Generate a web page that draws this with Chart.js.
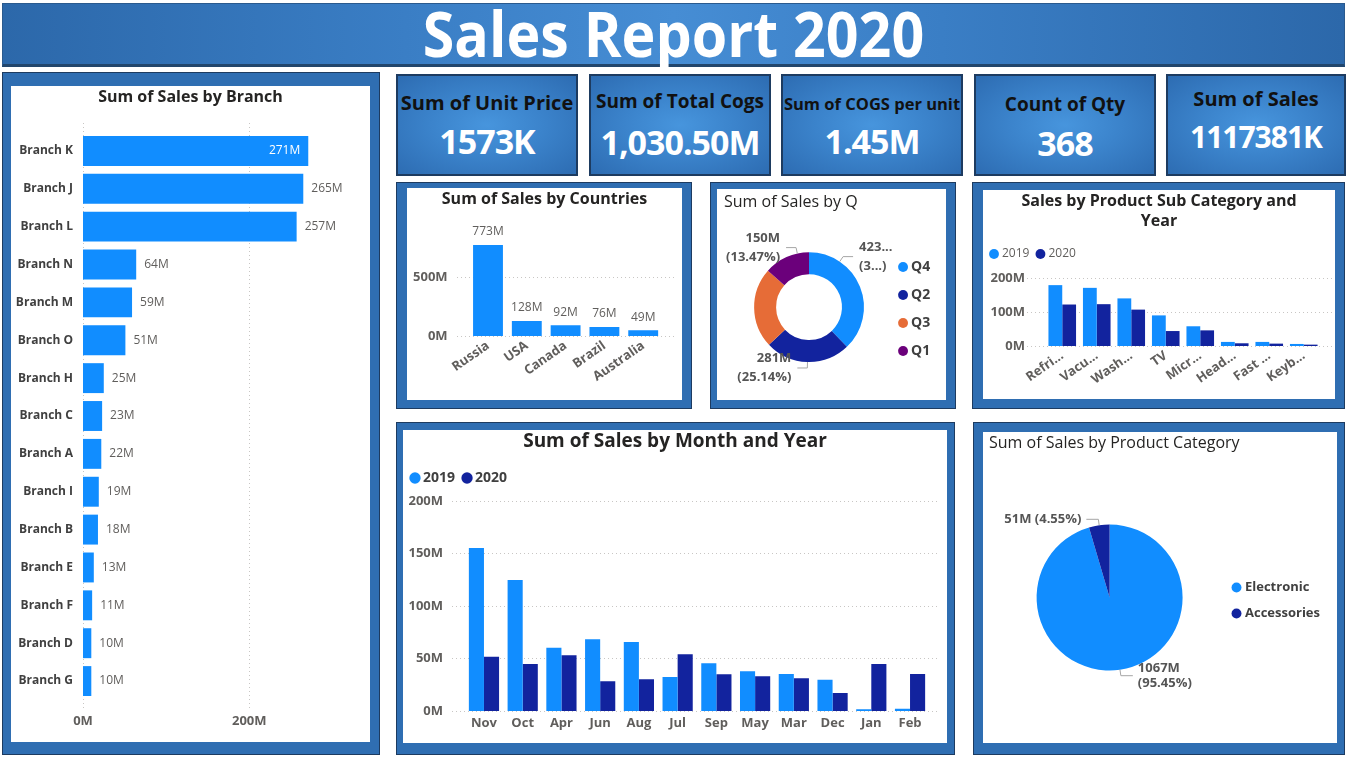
<!DOCTYPE html>
<html>
<head>
<meta charset="utf-8">
<script src="https://cdn.jsdelivr.net/npm/chart.js@4.4.1/dist/chart.umd.min.js"></script>
<style>
html,body{margin:0;padding:0;background:#fff;}
body{width:1347px;height:757px;position:relative;overflow:hidden;font-family:'Open Sans',sans-serif;}
.abs{position:absolute;box-sizing:border-box;}
.banner{left:2px;top:3px;width:1343px;height:64px;background:linear-gradient(90deg,#2c68aa 0%,#3a7ec5 30%,#468dd4 50%,#3a7ec5 70%,#2c68aa 100%);border:1px solid #2a5a8e;border-bottom:3px solid #22466c;}
.banner .t{position:absolute;left:0;right:0;top:-3px;text-align:center;color:#fff;font-weight:700;font-size:63px;line-height:63px;white-space:nowrap;}
.banner .t span{display:inline-block;transform:scaleX(0.91);}
.frame{background:#2f6eb2;border:1.5px solid #1d3b60;}
.white{background:#fff;}
.card{background:radial-gradient(ellipse at 50% 50%,#4795dd 0%,#3b83cb 45%,#2d6cb2 100%);border:2px solid #1d3b60;}
.card .lbl{position:absolute;left:0;right:0;text-align:center;color:#111;font-weight:700;white-space:nowrap;}
.card .val{position:absolute;left:0;right:0;text-align:center;color:#fff;font-weight:700;white-space:nowrap;letter-spacing:-1px;}
canvas{position:absolute;}
</style>
</head>
<body>
<div class="abs banner"><div class="t"><span>Sales Report 2020</span></div></div>
<div id="root"></div>
<script>
// ---------------- DATA ----------------
const branchLabels = ['Branch K','Branch J','Branch L','Branch N','Branch M','Branch O','Branch H','Branch C','Branch A','Branch I','Branch B','Branch E','Branch F','Branch D','Branch G'];
const branchSales = [271,265,257,64,59,51,25,23,22,19,18,13,11,10,10];
const branchTicks = [0,200];

const countryLabels = ['Russia','USA','Canada','Brazil','Australia'];
const countrySales = [773,128,92,76,49];
const countryTicks = [0,500];

const quarterLabels = ['Q4','Q2','Q3','Q1'];
const quarterSales = [423.2,280.9,262.8,150.49];

const subCatLabels = ['Refri...','Vacu...','Wash...','TV','Micr...','Head...','Fast ...','Keyb...'];
const subCat2019 = [179,171,140,90,58,12,12,6];
const subCat2020 = [122,123,107,44,46,8,7,4];
const subCatTicks = [0,100,200];

const monthLabels = ['Nov','Oct','Apr','Jun','Aug','Jul','Sep','May','Mar','Dec','Jan','Feb'];
const month2019 = [155.2,124.8,60.3,68.3,65.7,32.4,45.4,37.8,35.2,29.8,1.6,2.2];
const month2020 = [51.7,44.8,53.0,28.3,30.2,54.0,34.9,33.0,31.1,17.1,44.8,35.2];
const monthTicks = [0,50,100,150,200];

const categoryLabels = ['Electronic','Accessories'];
const categorySales = [1066.56,50.84];

const kpiLabels = ['Sum of Unit Price','Sum of Total Cogs','Sum of COGS per unit','Count of Qty','Sum of Sales'];
const kpiValues = ['1573K','1,030.50M','1.45M','368','1117381K'];

const yearLabels = ['2019','2020'];
// --------------------------------------

const C19 = '#118DFF', C20 = '#12239E';
const QCOL = ['#118DFF','#12239E','#E66C37','#6B007B'];
Chart.defaults.font.family = "'Open Sans', sans-serif";
Chart.defaults.animation = false;

const root = document.getElementById('root');
function box(cls, x1, y1, x2, y2){
  const d = document.createElement('div');
  d.className = 'abs ' + cls;
  d.style.left = x1+'px'; d.style.top = y1+'px';
  d.style.width = (x2-x1)+'px'; d.style.height = (y2-y1)+'px';
  root.appendChild(d); return d;
}
function panel(f, w){
  box('frame', f[0], f[1], f[2], f[3]);
  box('white', w[0], w[1], w[2], w[3]);
  const c = document.createElement('canvas');
  c.width = w[2]-w[0]; c.height = w[3]-w[1];
  c.style.left = w[0]+'px'; c.style.top = w[1]+'px';
  c.style.width = c.width+'px'; c.style.height = c.height+'px';
  root.appendChild(c);
  return c;
}
const fixTicks = arr => s => { s.ticks = arr.map(v => ({value: v})); };

// KPI cards
const cardBoxes = [[396,74,578,176],[589,74,771,176],[781,74,963,176],[974,74,1156,176],[1166,74,1346,176]];
const cardStyle = [
  {ls:20, lc:103, vs:34, vc:141},
  {ls:19, lc:101, vs:34, vc:142},
  {ls:16.5, lc:103, vs:34, vc:141},
  {ls:19, lc:104, vs:34, vc:143},
  {ls:20, lc:99, vs:30, vc:137}
];
cardBoxes.forEach((b,i)=>{
  const d = box('card', b[0], b[1], b[2], b[3]);
  const s = cardStyle[i];
  const l = document.createElement('div'); l.className='lbl';
  const lh = Math.round(s.ls*1.3);
  l.style.fontSize = s.ls+'px'; l.style.lineHeight = lh+'px';
  l.style.top = (s.lc - lh/2 - (b[1]+2))+'px';
  l.textContent = kpiLabels[i]; d.appendChild(l);
  const v = document.createElement('div'); v.className='val';
  const vh = Math.round(s.vs*1.2);
  v.style.fontSize = s.vs+'px'; v.style.lineHeight = vh+'px';
  v.style.top = (s.vc - vh/2 - (b[1]+2))+'px';
  v.textContent = kpiValues[i]; d.appendChild(v);
});

// ---------- plugins ----------
const extGrid = {
  id:'extGrid',
  beforeDatasetsDraw(chart, args, o){
    if(!o || !o.axis) return;
    const s = chart.scales[o.axis], a = chart.chartArea, ctx = chart.ctx;
    ctx.save();
    ctx.strokeStyle = o.color || '#c8c6c4'; ctx.lineWidth = 1; ctx.setLineDash(o.dash || [1,3]);
    s.ticks.forEach(t=>{
      const p = Math.round(s.getPixelForValue(t.value)) + 0.5;
      ctx.beginPath();
      if (o.axis === 'y') { ctx.moveTo(a.left-(o.extStart||0), p); ctx.lineTo(a.right+(o.extEnd||0), p); }
      else { ctx.moveTo(p, a.top-(o.extStart||0)); ctx.lineTo(p, a.bottom+(o.extEnd||0)); }
      ctx.stroke();
    });
    ctx.restore();
  }
};
const barLabels = {
  id:'barLabels',
  afterDatasetsDraw(chart, args, o){
    if(!o || !o.display) return;
    const ctx = chart.ctx, a = chart.chartArea;
    ctx.save();
    ctx.font = `${o.weight||'normal'} ${o.size}px 'Open Sans', sans-serif`;
    chart.data.datasets.forEach((ds,di)=>{
      const meta = chart.getDatasetMeta(di);
      meta.data.forEach((el,i)=>{
        const txt = Math.round(ds.data[i]) + 'M';
        const w = ctx.measureText(txt).width;
        if (chart.options.indexAxis === 'y') {
          ctx.textBaseline = 'middle';
          if (el.x + o.gap + w <= a.right - (o.margin||0)) { ctx.textAlign='left'; ctx.fillStyle=o.color; ctx.fillText(txt, el.x+o.gap, el.y); }
          else { ctx.textAlign='right'; ctx.fillStyle=o.insideColor; ctx.fillText(txt, el.x-o.gap, el.y); }
        } else {
          ctx.textAlign='center'; ctx.textBaseline='bottom'; ctx.fillStyle=o.color;
          ctx.fillText(txt, el.x, el.y - o.gap);
        }
      });
    });
    ctx.restore();
  }
};
const arcLabels = {
  id:'arcLabels',
  afterDatasetsDraw(chart, args, o){
    if(!o || !o.display) return;
    const ctx = chart.ctx, ds = chart.data.datasets[0], meta = chart.getDatasetMeta(0);
    const total = ds.data.reduce((s,v)=>s+v,0);
    ctx.save();
    ctx.font = `bold ${o.size}px 'Open Sans', sans-serif`;
    ctx.lineWidth = 1;
    meta.data.forEach((arc,i)=>{
      if ((o.hidden||[]).includes(i)) return;
      const ang = (o.anchorDeg && o.anchorDeg[i] != null) ? o.anchorDeg[i]*Math.PI/180 - Math.PI/2 : (arc.startAngle+arc.endAngle)/2;
      const r = arc.outerRadius, cx = arc.x, cy = arc.y;
      const p0 = {x: cx + r*Math.cos(ang), y: cy + r*Math.sin(ang)};
      const p1 = {x: cx + (r+o.radial)*Math.cos(ang), y: cy + (r+o.radial)*Math.sin(ang)};
      const side = Math.cos(ang) >= 0 ? 1 : -1;
      const p2 = {x: p1.x + side*o.horiz, y: p1.y};
      ctx.strokeStyle = o.lineColor;
      ctx.beginPath(); ctx.moveTo(p0.x, p0.y); ctx.lineTo(p1.x, p1.y); ctx.lineTo(p2.x, p2.y); ctx.stroke();
      let val = Math.round(ds.data[i]) + 'M';
      let pct = (ds.data[i]/total*100).toFixed(2) + '%';
      const tr = o.truncate && o.truncate[i];
      if (tr) { val = val.slice(0,tr[0]) + '...'; pct = pct.slice(0,tr[1]) + '...'; }
      pct = '(' + pct + ')';
      ctx.fillStyle = o.color;
      ctx.textAlign = side > 0 ? 'left' : 'right';
      ctx.textBaseline = 'middle';
      const tx = p2.x + side*o.gap;
      if (o.oneLine && o.oneLine.includes(i)) {
        ctx.fillText(val + ' ' + pct, tx, p2.y);
      } else {
        ctx.fillText(val, tx, p2.y - o.lineH/2);
        ctx.fillText(pct, tx, p2.y + o.lineH/2);
      }
    });
    ctx.restore();
  }
};
// places the title / legend boxes inside the panel after Chart.js layout
const boxShift = {
  id:'boxShift',
  afterLayout(chart, args, o){
    if (!o) return;
    const t = chart.titleBlock;
    if (t && o.titleFull) { t.left = 0; t.right = chart.width; t.width = chart.width; }
    if (t && o.titleX != null) { const w = t.right - t.left; t.left = o.titleX; t.right = o.titleX + w; }
    const L = chart.legend;
    if (L && o.legendY) { L.top = o.legendY[0]; L.bottom = o.legendY[1]; L.height = L.bottom - L.top; }
  }
};
const mFmt = v => v + 'M';
const TITLE = '#252423', TICK = '#605e5c', DARK = '#404040';

// ---------- Branch ----------
new Chart(panel([2,72,380,755],[11,86,370,742]), {
  type:'bar',
  data:{labels:branchLabels, datasets:[{data:branchSales, backgroundColor:C19, barPercentage:0.79, categoryPercentage:1}]},
  options:{
    responsive:false, indexAxis:'y', events:[],
    layout:{padding:{left:0,right:21,top:0,bottom:0}},
    plugins:{
      legend:{display:false}, tooltip:{enabled:false},
      title:{display:true, text:'Sum of Sales by Branch', color:TITLE, font:{size:16, weight:'bold'}, padding:{top:2,bottom:24.8}},
      boxShift:{titleFull:true},
      extGrid:{axis:'x', extStart:9, extEnd:9},
      barLabels:{display:true, size:12, color:TICK, insideColor:'#ffffff', gap:8, margin:4}
    },
    scales:{
      x:{min:0, max:320, afterBuildTicks:fixTicks(branchTicks), ticks:{callback:mFmt, color:TICK, font:{size:13, weight:'bold'}, padding:13, maxRotation:0},
         grid:{display:false, drawTicks:false}, border:{display:false}, afterFit:s=>{s.height=42;}},
      y:{ticks:{color:DARK, font:{size:12, weight:'bold'}, padding:10, autoSkip:false},
         grid:{display:false, drawTicks:false}, border:{display:false}, afterFit:s=>{s.width=72;}}
    }
  },
  plugins:[boxShift, extGrid, barLabels]
});

// ---------- Countries ----------
new Chart(panel([396,182,692,409],[407,188,682,400]), {
  type:'bar',
  data:{labels:countryLabels, datasets:[{data:countrySales, backgroundColor:C19, barPercentage:0.77, categoryPercentage:1}]},
  options:{
    responsive:false, events:[],
    layout:{padding:{left:0,right:19.4,top:0,bottom:0}},
    plugins:{
      legend:{display:false}, tooltip:{enabled:false},
      title:{display:true, text:'Sum of Sales by Countries', color:TITLE, font:{size:16, weight:'bold'}, padding:{top:1.4,bottom:21.4}},
      boxShift:{titleFull:true},
      extGrid:{axis:'y', extStart:11.6, extEnd:12.4},
      barLabels:{display:true, size:12, color:TICK, gap:7}
    },
    scales:{
      y:{min:0, max:900, afterBuildTicks:fixTicks(countryTicks), ticks:{callback:mFmt, color:TICK, font:{size:13, weight:'bold'}, padding:21},
         grid:{display:false, drawTicks:false}, border:{display:false}, afterFit:s=>{s.width=61.6;}},
      x:{ticks:{color:TICK, font:{size:13, weight:'bold'}, padding:2, minRotation:35, maxRotation:35, autoSkip:false},
         grid:{display:false, drawTicks:false}, border:{display:false}, afterFit:s=>{s.height=64;}}
    }
  },
  plugins:[boxShift, extGrid, barLabels]
});

// ---------- Quarters donut ----------
new Chart(panel([710,182,956,409],[717,189,946,400]), {
  type:'doughnut',
  data:{labels:quarterLabels, datasets:[{data:quarterSales, backgroundColor:QCOL, borderWidth:0, hoverOffset:0}]},
  options:{
    responsive:false, events:[], cutout:'60%',
    layout:{padding:{left:13,right:5.8,top:0,bottom:38}},
    plugins:{
      tooltip:{enabled:false},
      title:{display:true, text:'Sum of Sales by Q', align:'start', color:TITLE, font:{size:16, weight:'normal'}, padding:{top:4,bottom:40}},
      boxShift:{titleX:7, legendY:[29,211]},
      legend:{position:'right', labels:{usePointStyle:true, pointStyle:'circle', boxWidth:2, boxHeight:7, padding:14, color:DARK, font:{size:14, weight:'bold'}}},
      arcLabels:{display:true, size:13, color:'#555555', lineColor:'#a6a6a6', radial:6, horiz:10, gap:6, lineH:19,
                 anchorDeg:{0:34, 3:347.7}, hidden:[2], truncate:{0:[3,1]}}
    }
  },
  plugins:[boxShift, arcLabels]
});

// ---------- Sub category ----------
new Chart(panel([972,182,1345,409],[983,190,1335,399]), {
  type:'bar',
  data:{labels:subCatLabels, datasets:[
    {label:yearLabels[0], data:subCat2019, backgroundColor:C19, barPercentage:1, categoryPercentage:0.8},
    {label:yearLabels[1], data:subCat2020, backgroundColor:C20, barPercentage:1, categoryPercentage:0.8}
  ]},
  options:{
    responsive:false, events:[],
    layout:{padding:{left:0,right:14,top:0,bottom:0}},
    plugins:{
      tooltip:{enabled:false},
      title:{display:true, text:['Sales by Product Sub Category and','Year'], color:TITLE, font:{size:16, weight:'bold', lineHeight:1.25}, padding:{top:1,bottom:8}},
      boxShift:{titleFull:true},
      legend:{position:'top', align:'start', labels:{usePointStyle:true, pointStyle:'circle', boxWidth:4, boxHeight:7, padding:9, color:TICK, font:{size:12}}},
      extGrid:{axis:'y', extStart:18, extEnd:11}
    },
    scales:{
      y:{min:0, max:223.5, afterBuildTicks:fixTicks(subCatTicks), ticks:{callback:mFmt, color:TICK, font:{size:13, weight:'bold'}, padding:20},
         grid:{display:false, drawTicks:false}, border:{display:false}, afterFit:s=>{s.width=62;}},
      x:{ticks:{color:TICK, font:{size:13, weight:'bold'}, padding:2, minRotation:35, maxRotation:35, autoSkip:false},
         grid:{display:false, drawTicks:false}, border:{display:false}, afterFit:s=>{s.height=53;}}
    }
  },
  plugins:[boxShift, extGrid]
});

// ---------- Month ----------
new Chart(panel([396,422,955,755],[403,430,947,743]), {
  type:'bar',
  data:{labels:monthLabels, datasets:[
    {label:yearLabels[0], data:month2019, backgroundColor:C19, barPercentage:1, categoryPercentage:0.78},
    {label:yearLabels[1], data:month2020, backgroundColor:C20, barPercentage:1, categoryPercentage:0.78}
  ]},
  options:{
    responsive:false, events:[],
    layout:{padding:{left:0,right:17.6,top:0,bottom:0}},
    plugins:{
      tooltip:{enabled:false},
      title:{display:true, text:'Sum of Sales by Month and Year', color:TITLE, font:{size:19, weight:'bold'}, padding:{top:0.6,bottom:6.6}},
      boxShift:{titleFull:true},
      legend:{position:'top', align:'start', labels:{usePointStyle:true, pointStyle:'circle', boxWidth:2, boxHeight:8, padding:11, color:DARK, font:{size:14, weight:'bold'}}},
      extGrid:{axis:'y', extStart:12.6, extEnd:10.6}
    },
    scales:{
      y:{min:0, max:205.7, afterBuildTicks:fixTicks(monthTicks), ticks:{callback:mFmt, color:TICK, font:{size:13, weight:'bold'}, padding:21.6},
         grid:{display:false, drawTicks:false}, border:{display:false}, afterFit:s=>{s.width=61.6;}},
      x:{ticks:{color:TICK, font:{size:13, weight:'bold'}, padding:4, maxRotation:0, autoSkip:false},
         grid:{display:false, drawTicks:false}, border:{display:false}, afterFit:s=>{s.height=32;}}
    }
  },
  plugins:[boxShift, extGrid]
});

// ---------- Product category pie ----------
new Chart(panel([973,422,1345,755],[983,432,1337,743]), {
  type:'pie',
  data:{labels:categoryLabels, datasets:[{data:categorySales, backgroundColor:[C19, C20], borderWidth:0, hoverOffset:0}]},
  options:{
    responsive:false, events:[],
    layout:{padding:{left:14.7,right:7,top:0,bottom:72.5}},
    plugins:{
      tooltip:{enabled:false},
      title:{display:true, text:'Sum of Sales by Product Category', align:'start', color:TITLE, font:{size:16, weight:'normal'}, padding:{top:1.4,bottom:71.9}},
      boxShift:{titleX:6, legendY:[95.5,241.5]},
      legend:{position:'right', fullSize:false, labels:{usePointStyle:true, pointStyle:'circle', boxWidth:4, boxHeight:7, padding:13, color:DARK, font:{size:13, weight:'bold'}}},
      arcLabels:{display:true, size:13, color:'#555555', lineColor:'#a6a6a6', radial:6, horiz:12, gap:5, lineH:15, oneLine:[1]}
    }
  },
  plugins:[boxShift, arcLabels]
});
</script>
</body>
</html>
